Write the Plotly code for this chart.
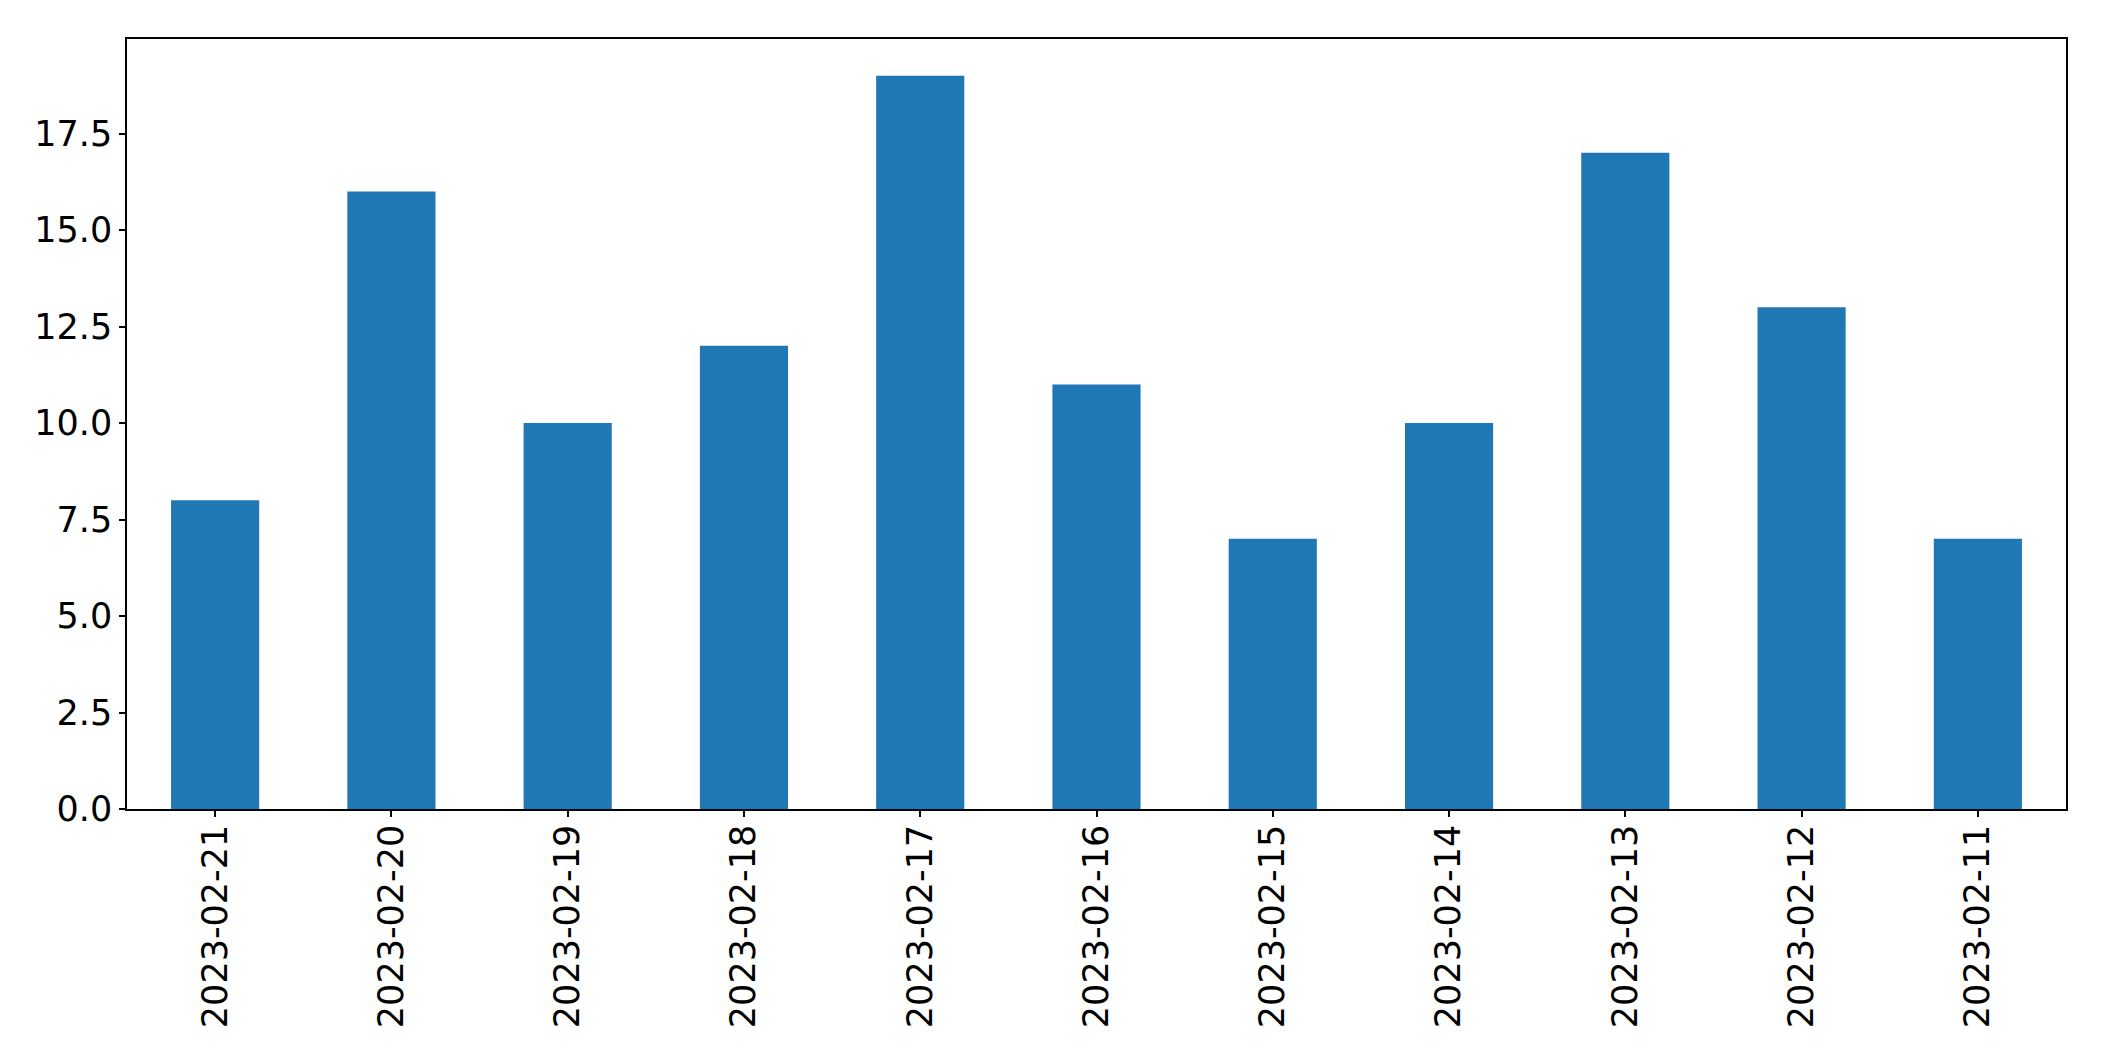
import plotly.graph_objects as go

dates = ["2023-02-21", "2023-02-20", "2023-02-19", "2023-02-18", "2023-02-17",
         "2023-02-16", "2023-02-15", "2023-02-14", "2023-02-13", "2023-02-12", "2023-02-11"]
counts = [8, 16, 10, 12, 19, 11, 7, 10, 17, 13, 7]
y_ticks = [0, 2.5, 5, 7.5, 10, 12.5, 15, 17.5]

fig = go.Figure(go.Bar(x=dates, y=counts, marker_color="#1f77b4", marker_line_width=0, width=0.5))

fig.update_layout(
    width=2096, height=1053,
    margin=dict(l=119, r=38, t=31, b=252),
    plot_bgcolor="white", paper_bgcolor="white",
    font=dict(family="DejaVu Sans", size=35, color="black"),
    showlegend=False,
)
fig.update_xaxes(
    type="category", range=[-0.5, 10.5], tickangle=-90,
    showline=True, linecolor="black", linewidth=1.5, mirror=True,
    ticks="outside", ticklen=6, tickwidth=1.5, tickcolor="black",
    ticklabelstandoff=-6,
    showgrid=False, zeroline=False,
)
fig.update_yaxes(
    range=[0, 19.95], tickvals=y_ticks, ticktext=[f"{v:.1f}" for v in y_ticks],
    showline=True, linecolor="black", linewidth=1.5, mirror=True,
    ticks="outside", ticklen=6, tickwidth=1.5, tickcolor="black",
    showgrid=False, zeroline=False,
)
fig.write_html("out.html")
